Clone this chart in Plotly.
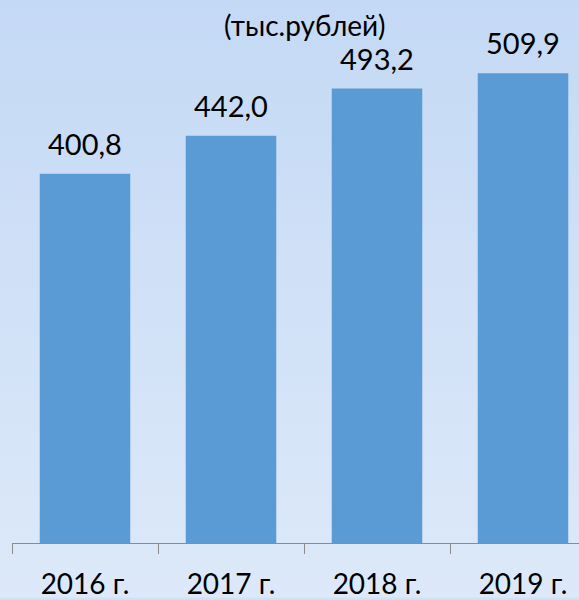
import base64
import plotly.graph_objects as go

# Data
categories = ["2016 г.", "2017 г.", "2018 г.", "2019 г."]
values = [400.8, 442.0, 493.2, 509.9]
value_labels = [f"{v:.1f}".replace(".", ",") for v in values]
unit_label = "(тыс.рублей)"

W, H = 579, 600
FONT = "Lato, sans-serif"

# Background gradient as SVG
svg = f'''<svg xmlns="http://www.w3.org/2000/svg" width="{W}" height="{H}" preserveAspectRatio="none">
<defs><linearGradient id="g" x1="0" y1="0" x2="0" y2="1">
<stop offset="0" stop-color="#c4d9f5"/><stop offset="1" stop-color="#dde9f9"/>
</linearGradient></defs>
<rect width="{W}" height="{H}" fill="url(#g)"/></svg>'''
svg_uri = "data:image/svg+xml;base64," + base64.b64encode(svg.encode()).decode()

ml, mr, mt, mb = 12, 0, 0, 55
pw, ph = W - ml - mr, H - mt - mb

fig = go.Figure()
fig.add_trace(go.Bar(
    x=categories, y=values,
    marker=dict(color="#5b9bd5", line=dict(width=0)),
    width=0.62,
    hoverinfo="skip",
))

for c, v, t in zip(categories, values, value_labels):
    fig.add_annotation(x=c, y=v, xref="x", yref="y", text=t, showarrow=False,
                       yanchor="bottom", yshift=11,
                       font=dict(family=FONT, size=29, color="#000000"))

fig.add_annotation(x=(304 - ml) / pw, y=1 - 25 / ph, xref="paper", yref="paper",
                   text=unit_label, showarrow=False, xanchor="center", yanchor="middle",
                   font=dict(family=FONT, size=28, color="#000000"))

fig.add_layout_image(dict(source=svg_uri, xref="paper", yref="paper",
                          x=-ml / pw, y=1 + mt / ph, sizex=W / pw, sizey=H / ph,
                          xanchor="left", yanchor="top", sizing="stretch", layer="below"))

fig.update_layout(
    width=W, height=H,
    margin=dict(l=ml, r=mr, t=mt, b=mb, pad=0),
    paper_bgcolor="#d0e1f7",
    plot_bgcolor="rgba(0,0,0,0)",
    showlegend=False,
    xaxis=dict(type="category", range=[-0.5, -0.5 + pw / 146.0],
               showline=True, linecolor="#8c8c8c", linewidth=1,
               ticks="outside", tickson="boundaries", ticklen=10, tickcolor="#8c8c8c",
               showgrid=False, zeroline=False,
               tickfont=dict(family=FONT, size=28, color="#000000"),
               ticklabelstandoff=16),
    yaxis=dict(range=[0, 545 / 0.9247], visible=False, showgrid=False, zeroline=False),
)

fig.write_html("out.html", config={"displayModeBar": False},
               post_script="document.body.style.margin='0';document.body.style.padding='0';"
                           "document.body.style.overflow='hidden';")
